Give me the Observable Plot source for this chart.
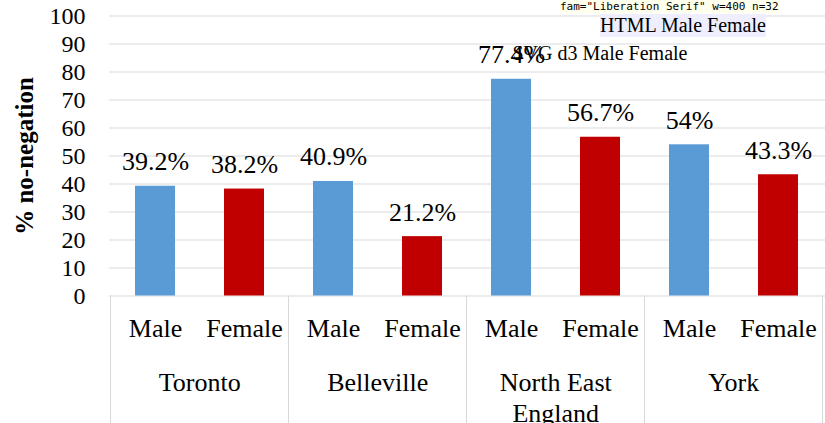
<!DOCTYPE html>
<html>
<head>
<meta charset="utf-8">
<script src="https://cdn.jsdelivr.net/npm/d3@7"></script>
<script src="https://cdn.jsdelivr.net/npm/@observablehq/plot@0.6"></script>
</head>
<body style="margin:0">
<div id="chart" style="position:relative"></div>
<script>
const groups = ["Toronto", "Belleville", "North East England", "York"];
const groupLabels = ["Toronto", "Belleville", "North East\nEngland", "York"];
const sexes = ["Male", "Female"];
const maleValues = [39.2, 40.9, 77.4, 54];
const femaleValues = [38.2, 21.2, 56.7, 43.3];
const yTicks = [0, 10, 20, 30, 40, 50, 60, 70, 80, 90, 100];
const yTitle = "% no-negation";
const colors = ["#5B9BD5", "#C00000"];

const data = [];
groups.forEach((g, i) => {
  data.push({group: g, sex: "Male", key: g + "|Male", value: maleValues[i]});
  data.push({group: g, sex: "Female", key: g + "|Female", value: femaleValues[i]});
});
const keys = data.map(d => d.key);
const groupData = groups.map((g, i) => ({label: groupLabels[i], key: g + "|Female"}));

const F = "Liberation Serif";
const W = 825, H = 423, ML = 109, MR = 0;
const step = (W - ML - MR) / keys.length;

const chart = Plot.plot({
  width: W,
  height: H,
  marginLeft: ML,
  marginRight: MR,
  marginTop: 15.5,
  marginBottom: 127.5,
  style: {fontFamily: F, color: "#000", background: "#fff"},
  x: {domain: keys, paddingInner: 0.547, paddingOuter: 0.2735, label: null},
  y: {domain: [0, 100], label: null},
  color: {domain: sexes, range: colors},
  marks: [
    Plot.gridY({ticks: yTicks, stroke: "#d9d9d9", strokeOpacity: 1, strokeWidth: 1}),
    Plot.barY(data, {x: "key", y: "value", fill: "sex"}),
    Plot.text(data, {x: "key", y: "value", text: d => `${d.value}%`, lineAnchor: "bottom", dy: -16, fontSize: 26, fill: "#000"}),
    Plot.axisY({ticks: yTicks, tickSize: 0, tickPadding: 24, fontSize: 24, label: null}),
    Plot.axisY({ticks: [], label: yTitle, labelAnchor: "center", labelArrow: "none", labelOffset: 94, fontSize: 25, fontWeight: "bold", tickSize: 0}),
    Plot.axisX({anchor: "bottom", tickSize: 0, tickPadding: 23, fontSize: 26, label: null, tickFormat: k => k.split("|")[1]}),
    Plot.text(groupData, {x: "key", y: () => 0, text: "label", dx: -step / 2, dy: 73, lineAnchor: "top", lineHeight: 31 / 26, fontSize: 26, fill: "#000"})
  ]
});

document.getElementById("chart").appendChild(chart);

// group separators below the axis, positioned from the x scale
const xs = chart.scale("x");
const ys = chart.scale("y");
const y0 = ys.apply(0);
const st = xs.apply(keys[1]) - xs.apply(keys[0]);
const gap = (st - xs.bandwidth) / 2;
const edges = groups.map((g, i) => xs.apply(keys[2 * i]) - gap)
  .concat([xs.apply(keys[keys.length - 1]) + xs.bandwidth + gap]);
d3.select(chart).append("g")
  .attr("stroke", "#d9d9d9")
  .selectAll("line")
  .data(edges)
  .join("line")
  .attr("x1", d => d).attr("x2", d => d)
  .attr("y1", y0).attr("y2", H);

// font diagnostics (temporary)
const t = chart.querySelector("g[aria-label='y-axis tick label'] text") || chart.querySelector("text");
const cs = getComputedStyle(t);
const info = document.createElement("div");
info.style.cssText = "position:absolute;left:560px;top:0;font:11px 'DejaVu Sans Mono';background:#ffe;";
info.textContent = `fam=${cs.fontFamily} w=${cs.fontWeight} n=${chart.querySelectorAll("text").length}`;
document.getElementById("chart").appendChild(info);
const h = document.createElement("div");
h.style.cssText = "position:absolute;left:600px;top:14px;font:20px 'Liberation Serif';background:#eef;";
h.textContent = "HTML Male Female";
document.getElementById("chart").appendChild(h);
d3.select(chart).append("text").attr("x", 600).attr("y", 60).attr("font-family", "Liberation Serif").attr("font-size", 20).text("SVG d3 Male Female");
</script>
</body>
</html>
